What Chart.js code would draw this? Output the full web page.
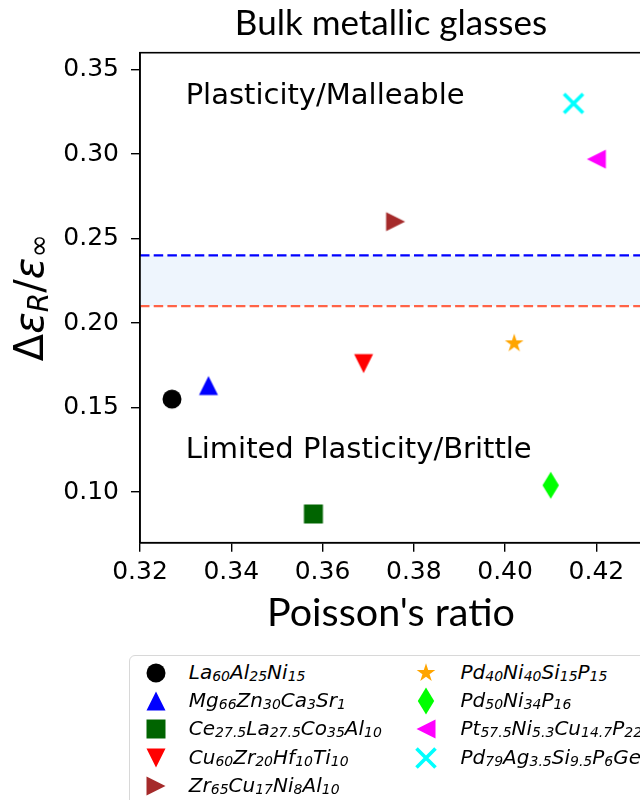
<!DOCTYPE html>
<html>
<head>
<meta charset="utf-8">
<script src="https://cdn.jsdelivr.net/npm/chart.js@4.4.0/dist/chart.umd.min.js"></script>
<style>
  html, body { margin: 0; padding: 0; background: #fff; }
  #wrap { position: relative; width: 640px; height: 800px; overflow: hidden; }
  #chart { position: absolute; left: 0; top: 0; }
  #legend { position: absolute; left: 129px; top: 655px; width: 640px; height: 200px;
            border: 1.5px solid #d8d8d8; border-radius: 6px; box-sizing: border-box; background: #fff; }
  .item { position: absolute; font: italic 20px 'DejaVu Sans'; line-height: 20px; white-space: nowrap; color: #000; }
  .item sub { font-size: 0.7em; vertical-align: -0.12em; line-height: 0; }
  .mk { position: absolute; }
</style>
</head>
<body>
<div id="wrap">
  <canvas id="chart" width="700" height="650"></canvas>
  <div id="legend"></div>
</div>
<script>
// data
const alloys = [
  'La_{60}Al_{25}Ni_{15}',
  'Mg_{66}Zn_{30}Ca_{3}Sr_{1}',
  'Ce_{27.5}La_{27.5}Co_{35}Al_{10}',
  'Cu_{60}Zr_{20}Hf_{10}Ti_{10}',
  'Zr_{65}Cu_{17}Ni_{8}Al_{10}',
  'Pd_{40}Ni_{40}Si_{15}P_{15}',
  'Pd_{50}Ni_{34}P_{16}',
  'Pt_{57.5}Ni_{5.3}Cu_{14.7}P_{22.5}',
  'Pd_{79}Ag_{3.5}Si_{9.5}P_{6}Ge_{2}'
];
const poisson = [0.327, 0.335, 0.358, 0.369, 0.376, 0.402, 0.410, 0.420, 0.415];
const strainRatio = [0.155, 0.163, 0.087, 0.176, 0.260, 0.188, 0.104, 0.297, 0.330];
const colors = ['#000000', '#0000ff', '#006400', '#ff0000', '#a52a2a', '#ffa500', '#00ff00', '#ff00ff', '#00ffff'];
const markers = ['circle', 'triUp', 'square', 'triDown', 'triRight', 'star', 'thinDiamond', 'triLeft', 'x'];

const xTicks = [0.32, 0.34, 0.36, 0.38, 0.40, 0.42];
const yTicks = [0.10, 0.15, 0.20, 0.25, 0.30, 0.35];
const xRange = [0.32, 0.43];
const yRange = [0.07, 0.36];
const upperLimit = 0.24;
const lowerLimit = 0.21;

// matplotlib-like marker glyphs, drawn once into small canvases
function makeMarker(kind, color) {
  const S = 32;
  const c = document.createElement('canvas');
  c.width = S; c.height = S;
  const g = c.getContext('2d');
  g.translate(S / 2, S / 2);
  g.fillStyle = color;
  g.strokeStyle = color;
  const r = 9.5;
  g.beginPath();
  if (kind === 'circle') {
    g.arc(0, 0, r, 0, Math.PI * 2);
  } else if (kind === 'square') {
    g.rect(-r, -r, 2 * r, 2 * r);
  } else if (kind.startsWith('tri')) {
    const rot = { triUp: 0, triDown: Math.PI, triRight: Math.PI / 2, triLeft: -Math.PI / 2 }[kind];
    g.rotate(rot);
    g.moveTo(0, -r); g.lineTo(r, r); g.lineTo(-r, r); g.closePath();
  } else if (kind === 'star') {
    const R = 9.8, ri = R * 0.381966;
    for (let k = 0; k < 10; k++) {
      const a = -Math.PI / 2 + k * Math.PI / 5;
      const rr = k % 2 ? ri : R;
      k ? g.lineTo(rr * Math.cos(a), rr * Math.sin(a)) : g.moveTo(rr * Math.cos(a), rr * Math.sin(a));
    }
    g.closePath();
  } else if (kind === 'thinDiamond') {
    g.moveTo(0, -13.5); g.lineTo(8.2, 0); g.lineTo(0, 13.5); g.lineTo(-8.2, 0); g.closePath();
  } else if (kind === 'x') {
    g.lineWidth = 3.6;
    g.moveTo(-r, -r); g.lineTo(r, r);
    g.moveTo(r, -r); g.lineTo(-r, r);
    g.stroke();
    return c;
  }
  g.fill();
  return c;
}

const pointDatasets = alloys.map((name, i) => ({
  label: name,
  data: [{ x: poisson[i], y: strainRatio[i] }],
  pointStyle: makeMarker(markers[i], colors[i]),
  pointRadius: 10,
  showLine: false,
  order: 0
}));

const lineDatasets = [
  {
    type: 'line',
    label: 'upper',
    data: xRange.map(x => ({ x, y: upperLimit })),
    borderColor: '#0000ff',
    borderWidth: 2.3,
    borderDash: [9.5, 4.2],
    pointRadius: 0,
    fill: '+1',
    backgroundColor: '#eef5fd',
    order: 10
  },
  {
    type: 'line',
    label: 'lower',
    data: xRange.map(x => ({ x, y: lowerLimit })),
    borderColor: '#ff6347',
    borderWidth: 2.3,
    borderDash: [9.5, 4.2],
    pointRadius: 0,
    fill: false,
    order: 9
  }
];

// frame, region labels and the y-axis label
const extras = {
  id: 'extras',
  afterDatasetsDraw(chart) {
    const { ctx, chartArea: a, scales: { x, y } } = chart;
    ctx.save();
    ctx.strokeStyle = '#000';
    ctx.lineWidth = 1.6;
    ctx.strokeRect(a.left, a.top, a.right - a.left, a.bottom - a.top);

    ctx.fillStyle = '#000';
    ctx.font = '29px "DejaVu Sans"';
    ctx.textBaseline = 'alphabetic';
    ctx.textAlign = 'left';
    ctx.fillText('Plasticity/Malleable', x.getPixelForValue(0.330), y.getPixelForValue(0.3295));
    ctx.fillText('Limited Plasticity/Brittle', x.getPixelForValue(0.330), y.getPixelForValue(0.120));

    const parts = [
      { t: 'Δ', f: '40px "DejaVu Sans"', d: 0 },
      { t: 'ε', f: 'italic 40px "DejaVu Sans"', d: 0 },
      { t: 'R', f: 'italic 28px "DejaVu Sans"', d: 5 },
      { t: '/', f: '40px "DejaVu Sans"', d: 0 },
      { t: 'ε', f: 'italic 40px "DejaVu Sans"', d: 0 },
      { t: '∞', f: '28px "DejaVu Sans"', d: 5 }
    ];
    let w = 0;
    parts.forEach(p => { ctx.font = p.f; p.w = ctx.measureText(p.t).width; w += p.w; });
    ctx.translate(43, (a.top + a.bottom) / 2);
    ctx.rotate(-Math.PI / 2);
    let cx = -w / 2;
    parts.forEach(p => { ctx.font = p.f; ctx.fillText(p.t, cx, p.d); cx += p.w; });
    ctx.restore();
  }
};

new Chart(document.getElementById('chart'), {
  type: 'scatter',
  data: { datasets: [...pointDatasets, ...lineDatasets] },
  options: {
    responsive: false,
    animation: false,
    events: [],
    layout: { padding: { left: 0, right: 58, top: 0, bottom: 0 } },
    plugins: {
      legend: { display: false },
      tooltip: { enabled: false },
      title: {
        display: true,
        text: 'Bulk metallic glasses',
        color: '#000',
        fullSize: false,
        font: { family: 'Lato', size: 35, weight: 'normal' },
        padding: { top: 3, bottom: 7.7 }
      }
    },
    scales: {
      x: {
        type: 'linear',
        min: xRange[0], max: xRange[1],
        afterFit: s => { s.height = 107.3; },
        afterBuildTicks: s => { s.ticks = xTicks.map(v => ({ value: v })); },
        grid: { drawOnChartArea: false, drawTicks: true, tickLength: 9, color: '#000', lineWidth: 1.4 },
        border: { display: true, color: '#000', width: 1.6 },
        ticks: { color: '#000', font: { family: 'DejaVu Sans', size: 25 }, padding: 6, maxRotation: 0,
                 callback: v => v.toFixed(2) },
        title: { display: true, text: "Poisson's ratio", color: '#000',
                 font: { family: 'Lato', size: 39.5 }, padding: { top: 0, bottom: 13 } }
      },
      y: {
        type: 'linear',
        min: yRange[0], max: yRange[1],
        afterFit: s => { s.width = 140; },
        afterBuildTicks: s => { s.ticks = yTicks.map(v => ({ value: v })); },
        grid: { drawOnChartArea: false, drawTicks: true, tickLength: 9, color: '#000', lineWidth: 1.4 },
        border: { display: true, color: '#000', width: 1.6 },
        ticks: { color: '#000', font: { family: 'DejaVu Sans', size: 25 }, padding: 12,
                 callback: v => v.toFixed(2) }
      }
    }
  },
  plugins: [extras]
});

// legend with chemical subscripts
const legend = document.getElementById('legend');
const sub = s => s.replace(/_\{([^}]*)\}/g, '<sub>$1</sub>');
alloys.forEach((name, i) => {
  const col = i < 5 ? 0 : 1;
  const row = i < 5 ? i : i - 5;
  const cy = 673.3 + 28.3 * row - 656.5;
  const mk = makeMarker(markers[i], colors[i]);
  mk.className = 'mk';
  mk.style.left = ([156, 426.7][col] - 130.5 - 16) + 'px';
  mk.style.top = (cy - 16) + 'px';
  legend.appendChild(mk);
  const t = document.createElement('div');
  t.className = 'item';
  t.innerHTML = sub(name);
  t.style.left = ([189.3, 461][col] - 130.5) + 'px';
  t.style.top = (cy - 11) + 'px';
  legend.appendChild(t);
});
</script>
</body>
</html>
